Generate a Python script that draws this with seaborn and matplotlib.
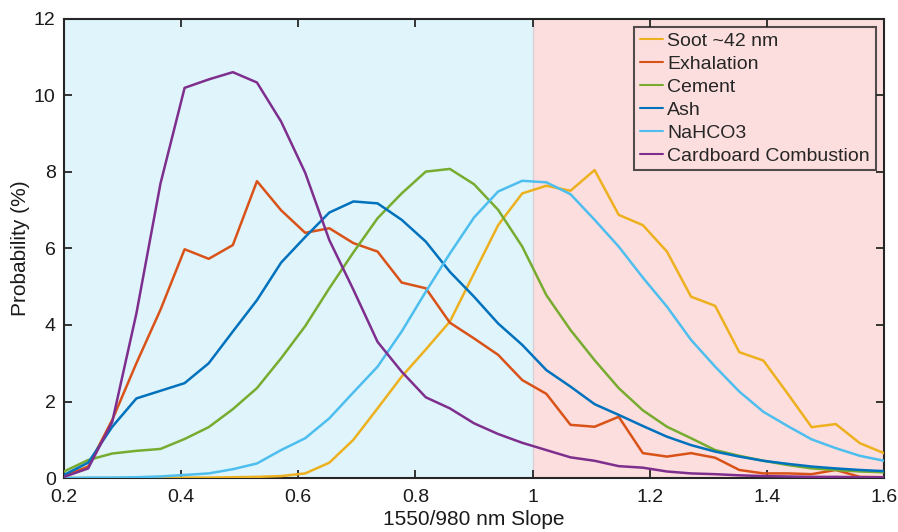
import numpy as np
import pandas as pd
import matplotlib
matplotlib.use("Agg")
import matplotlib.pyplot as plt
import seaborn as sns

# Slope bin positions (35 evenly spaced samples from 0.2 to 1.6)
slope = np.linspace(0.2, 1.6, 35)

soot = [0.0, 0.0, 0.0, 0.0, 0.0, 0.01, 0.01, 0.02, 0.03, 0.05,
        0.12, 0.40, 1.00, 1.82, 2.65, 3.36, 4.09, 5.35, 6.61, 7.44,
        7.64, 7.51, 8.05, 6.88, 6.61, 5.92, 4.74, 4.50, 3.29, 3.07,
        2.21, 1.33, 1.41, 0.91, 0.65]
exhalation = [0.05, 0.30, 1.52, 3.00, 4.40, 5.98, 5.73, 6.09, 7.76, 7.00,
              6.41, 6.53, 6.14, 5.92, 5.11, 4.96, 4.06, 3.65, 3.22, 2.56,
              2.20, 1.39, 1.34, 1.60, 0.65, 0.56, 0.65, 0.53, 0.21, 0.12,
              0.12, 0.10, 0.21, 0.03, 0.02]
cement = [0.17, 0.47, 0.64, 0.71, 0.76, 1.02, 1.33, 1.80, 2.35, 3.13,
          3.97, 4.96, 5.90, 6.79, 7.44, 8.01, 8.08, 7.68, 7.01, 6.05,
          4.78, 3.87, 3.08, 2.35, 1.77, 1.34, 1.04, 0.73, 0.58, 0.45,
          0.34, 0.25, 0.21, 0.17, 0.15]
ash = [0.08, 0.40, 1.34, 2.08, 2.28, 2.48, 3.00, 3.83, 4.65, 5.63,
       6.30, 6.94, 7.23, 7.18, 6.75, 6.18, 5.39, 4.74, 4.04, 3.48,
       2.82, 2.39, 1.93, 1.65, 1.36, 1.08, 0.86, 0.69, 0.56, 0.45,
       0.37, 0.30, 0.25, 0.21, 0.18]
nahco3 = [0.0, 0.01, 0.01, 0.02, 0.04, 0.08, 0.12, 0.23, 0.38, 0.73,
          1.04, 1.56, 2.24, 2.91, 3.83, 4.87, 5.87, 6.81, 7.49, 7.77,
          7.73, 7.42, 6.75, 6.05, 5.24, 4.48, 3.61, 2.91, 2.26, 1.73,
          1.36, 1.01, 0.78, 0.58, 0.45]
cardboard = [0.03, 0.25, 1.47, 4.30, 7.70, 10.20, 10.42, 10.61, 10.34, 9.32,
             7.98, 6.22, 4.92, 3.56, 2.78, 2.11, 1.82, 1.43, 1.15, 0.92,
             0.73, 0.54, 0.45, 0.31, 0.27, 0.17, 0.12, 0.10, 0.07, 0.05,
             0.04, 0.03, 0.03, 0.02, 0.02]

series_names = ["Soot ~42 nm", "Exhalation", "Cement", "Ash", "NaHCO3",
                "Cardboard Combustion"]
series_values = [soot, exhalation, cement, ash, nahco3, cardboard]
colors = ["#EDB120", "#D95319", "#77AC30", "#0072BD", "#4DBEEE", "#7E2F8E"]

x_ticks = [0.2, 0.4, 0.6, 0.8, 1.0, 1.2, 1.4, 1.6]
x_tick_labels = ["0.2", "0.4", "0.6", "0.8", "1", "1.2", "1.4", "1.6"]
y_ticks = [0, 2, 4, 6, 8, 10, 12]

df = pd.concat(
    [pd.DataFrame({"slope": slope, "prob": vals, "source": name})
     for name, vals in zip(series_names, series_values)],
    ignore_index=True,
)

sns.set_theme(style="white")
plt.rcParams["font.family"] = ["Liberation Sans", "DejaVu Sans"]

fig = plt.figure(figsize=(8.98, 5.32), dpi=100)
ax = fig.add_axes([0.0713, 0.1015, 0.9131, 0.8628])

# Shaded regions on either side of slope = 1
ax.axvspan(0.2, 1.0, color="#E0F4FC", zorder=0, lw=0)
ax.axvspan(1.0, 1.6, color="#FDDEDE", zorder=0, lw=0)
ax.axvline(1.0, color="#D8D0D4", lw=1.0, zorder=0.5)

sns.lineplot(data=df, x="slope", y="prob", hue="source",
             hue_order=series_names, palette=colors, linewidth=1.8,
             ax=ax, legend=True, zorder=3)

ax.set_xlim(0.2, 1.6)
ax.set_ylim(0, 12)
ax.set_xticks(x_ticks)
ax.set_xticklabels(x_tick_labels)
ax.set_yticks(y_ticks)
ax.set_xlabel("1550/980 nm Slope", fontsize=15, labelpad=3, color="#1a1a1a")
ax.set_ylabel("Probability (%)", fontsize=15, labelpad=3, color="#1a1a1a")
ax.tick_params(direction="in", length=6, width=1.3, colors="#262626",
               labelsize=14, top=True, right=True, bottom=True, left=True,
               labelcolor="#1a1a1a")
ax.tick_params(axis="x", pad=8)
ax.tick_params(axis="y", pad=6)
for sp in ax.spines.values():
    sp.set_visible(True)
    sp.set_color("#262626")
    sp.set_linewidth(1.5)

leg = ax.legend(loc="upper right", fontsize=14, frameon=True, fancybox=False,
                handlelength=1.2, handletextpad=0.2, borderpad=0.3,
                labelspacing=0.27, bbox_to_anchor=(0.990, 0.983),
                borderaxespad=0.0)
leg.get_frame().set_edgecolor("#262626")
leg.get_frame().set_linewidth(1.5)
leg.get_frame().set_facecolor("none")
for line in leg.get_lines():
    line.set_linewidth(1.5)

fig.savefig("out.png", dpi=100)
